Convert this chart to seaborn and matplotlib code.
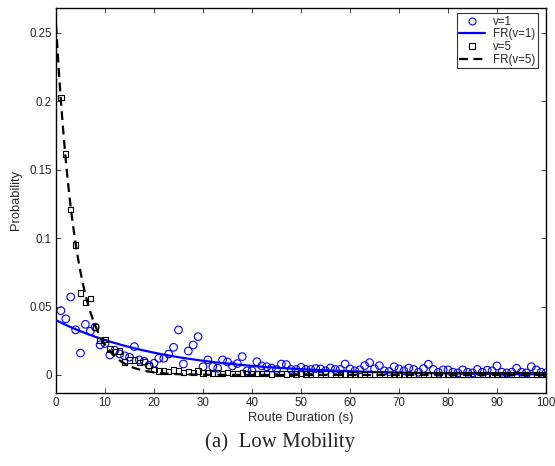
import numpy as np
import pandas as pd
import matplotlib
matplotlib.use("Agg")
import matplotlib.pyplot as plt
from matplotlib.lines import Line2D
import seaborn as sns

# Route duration (s) of the measured samples
duration = list(range(1, 101))

# Measured probability, speed v=1
prob_v1 = [
    0.047, 0.041, 0.057, 0.033, 0.016, 0.037, 0.032, 0.035, 0.022, 0.023,
    0.0146, 0.018, 0.0153, 0.014, 0.013, 0.0207, 0.011, 0.010, 0.007, 0.0085,
    0.0122, 0.0122, 0.0153, 0.0202, 0.0329, 0.008, 0.0175, 0.0219, 0.028, 0.006,
    0.011, 0.006, 0.0049, 0.011, 0.0095, 0.0066, 0.0083, 0.0134, 0.003, 0.003,
    0.0097, 0.0066, 0.006, 0.005, 0.004, 0.008, 0.0076, 0.004, 0.004, 0.0056,
    0.004, 0.004, 0.0047, 0.0044, 0.003, 0.0051, 0.004, 0.004, 0.008, 0.0044,
    0.003, 0.0037, 0.0068, 0.009, 0.0045, 0.0068, 0.003, 0.0025, 0.006, 0.0044,
    0.003, 0.005, 0.004, 0.002, 0.0047, 0.0078, 0.004, 0.002, 0.0037, 0.0037,
    0.002, 0.0015, 0.0037, 0.002, 0.0015, 0.004, 0.002, 0.0035, 0.003, 0.0066,
    0.002, 0.0015, 0.002, 0.0049, 0.002, 0.0015, 0.006, 0.0037, 0.002, 0.0015,
]

# Measured probability, speed v=5
prob_v5 = [
    0.203, 0.1615, 0.121, 0.095, 0.060, 0.053, 0.056, 0.035, 0.025, 0.026,
    0.019, 0.017, 0.0175, 0.0095, 0.011, 0.011, 0.009, 0.010, 0.007, 0.004,
    0.003, 0.003, 0.0025, 0.0037, 0.003, 0.002, 0.0025, 0.002, 0.003, 0.0015,
    0.0018, 0.0012, 0.0015, 0.0012, 0.0018, 0.0012, 0.001, 0.0015, 0.0012, 0.001,
    0.0012, 0.001, 0.0012, 0.0008, 0.001, 0.0012, 0.0008, 0.001, 0.0008, 0.001,
    0.0008, 0.0006, 0.0008, 0.0006, 0.0008, 0.0006, 0.0008, 0.0005, 0.0006, 0.0008,
    0.0005, 0.0006, 0.0005, 0.0006, 0.0005, 0.0004, 0.0006, 0.0005, 0.0004, 0.0005,
    0.0004, 0.0005, 0.0004, 0.0003, 0.0005, 0.0004, 0.0003, 0.0004, 0.0003, 0.0004,
    0.0003, 0.0004, 0.0003, 0.0003, 0.0004, 0.0003, 0.0003, 0.0004, 0.0003, 0.0003,
    0.0003, 0.0004, 0.0003, 0.0003, 0.0003, 0.0003, 0.0004, 0.0003, 0.0003, 0.0003,
]

# Fitted exponential route-duration model FR: p(t) = amp * exp(-rate * t)
fr_amp_v1, fr_rate_v1 = 0.040, 0.045
fr_amp_v5, fr_rate_v5 = 0.256, 0.245

x_ticks = [0, 10, 20, 30, 40, 50, 60, 70, 80, 90, 100]
y_ticks = [0, 0.05, 0.1, 0.15, 0.2, 0.25]
y_tick_labels = ["0", "0.05", "0.1", "0.15", "0.2", "0.25"]

sns.set_style("ticks")
plt.rcParams["font.family"] = ["Liberation Sans", "DejaVu Sans"]

samples = pd.DataFrame({"t": duration, "v1": prob_v1, "v5": prob_v5})
t_fine = np.linspace(0, 100, 401)
model = pd.DataFrame({
    "t": t_fine,
    "fr1": fr_amp_v1 * np.exp(-fr_rate_v1 * t_fine),
    "fr5": fr_amp_v5 * np.exp(-fr_rate_v5 * t_fine),
})

fig = plt.figure(figsize=(5.55, 4.66), dpi=100)
ax = fig.add_axes([56 / 555, 1 - 393 / 466, 490 / 555, 385.5 / 466])

sns.scatterplot(data=samples, x="t", y="v1", marker="o", s=30,
                facecolor="none", edgecolor="#0000ff", linewidth=0.8,
                ax=ax, zorder=3)
sns.lineplot(data=model, x="t", y="fr1", color="#0000ff", lw=1.6,
             ax=ax, zorder=4)
sns.scatterplot(data=samples, x="t", y="v5", marker="s", s=15,
                facecolor="none", edgecolor="black", linewidth=0.8,
                ax=ax, zorder=5)
sns.lineplot(data=model, x="t", y="fr5", color="black", lw=1.6,
             dashes=False, ax=ax, zorder=6)
ax.lines[-1].set_dashes((4, 2.5))

ax.set_xlim(0, 100)
ax.set_ylim(-0.0132, 0.2686)
ax.set_xticks(x_ticks)
ax.set_xticklabels([str(v) for v in x_ticks])
ax.set_yticks(y_ticks)
ax.set_yticklabels(y_tick_labels)
ax.tick_params(direction="in", length=3.5, width=0.6, labelsize=8.3,
               top=True, right=True, pad=3)
for side in ax.spines.values():
    side.set_linewidth(1.0)
    side.set_color("black")

ax.set_xlabel("Route Duration (s)", fontsize=9.3, labelpad=2)
ax.set_ylabel("Probability", fontsize=9.3, labelpad=5)

handles = [
    Line2D([], [], ls="", marker="o", ms=5, mfc="none", mec="#0000ff", mew=0.8),
    Line2D([], [], color="#0000ff", lw=1.6),
    Line2D([], [], ls="", marker="s", ms=3.8, mfc="none", mec="black", mew=0.8),
    Line2D([], [], color="black", lw=1.6, dashes=(4, 2.5)),
]
labels = ["v=1", "FR(v=1)", "v=5", "FR(v=5)"]
leg = ax.legend(handles, labels, loc="upper right",
                bbox_to_anchor=(538 / 555, 1 - 13 / 466),
                bbox_transform=fig.transFigure, borderaxespad=0,
                fontsize=8.3, frameon=True, fancybox=False,
                handlelength=2.2, handletextpad=0.7, labelspacing=0.05,
                borderpad=0.25)
leg.get_frame().set_edgecolor("black")
leg.get_frame().set_linewidth(0.8)

fig.text(280 / 555, 1 - 442 / 466, "(a)  Low Mobility", ha="center",
         va="center", fontsize=15, family=["Liberation Serif", "DejaVu Serif"])

fig.savefig("out.png", dpi=100)
